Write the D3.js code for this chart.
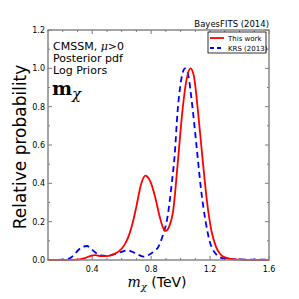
<!DOCTYPE html>
<html>
<head>
<meta charset="utf-8">
<script src="https://cdn.jsdelivr.net/npm/d3@7"></script>
<style>
body { margin: 0; background: #fff; }
text { font-family: "DejaVu Sans", sans-serif; }
</style>
</head>
<body>
<div id="chart"></div>
<script>
var width = 299, height = 299;
var margin = {left: 48, right: 30, top: 30, bottom: 39};

// this work (red)
var redX = [0.10, 0.20, 0.30, 0.35, 0.39, 0.42, 0.46, 0.50, 0.55, 0.58, 0.62, 0.65, 0.68, 0.70, 0.73, 0.76, 0.78, 0.80, 0.83, 0.86, 0.88, 0.90, 0.92, 0.95, 0.98, 1.01, 1.04, 1.067, 1.09, 1.12, 1.15, 1.18, 1.21, 1.24, 1.27, 1.30, 1.35, 1.40, 1.50, 1.60];
var redY = [0, 0, 0.002, 0.01, 0.022, 0.025, 0.02, 0.02, 0.032, 0.045, 0.08, 0.13, 0.21, 0.28, 0.39, 0.44, 0.43, 0.40, 0.32, 0.22, 0.17, 0.152, 0.17, 0.26, 0.50, 0.76, 0.94, 1.0, 0.96, 0.76, 0.52, 0.30, 0.15, 0.07, 0.03, 0.014, 0.005, 0.002, 0, 0];

// KRS 2013 (blue dashed)
var blueX = [0.10, 0.20, 0.25, 0.28, 0.31, 0.34, 0.365, 0.39, 0.42, 0.45, 0.50, 0.55, 0.60, 0.64, 0.68, 0.72, 0.75, 0.78, 0.82, 0.85, 0.88, 0.91, 0.94, 0.96, 0.98, 1.00, 1.03, 1.05, 1.08, 1.11, 1.14, 1.17, 1.20, 1.23, 1.26, 1.30, 1.40, 1.50, 1.60];
var blueY = [0, 0.002, 0.01, 0.03, 0.055, 0.07, 0.073, 0.06, 0.04, 0.025, 0.022, 0.03, 0.043, 0.05, 0.04, 0.025, 0.018, 0.025, 0.045, 0.07, 0.13, 0.22, 0.40, 0.55, 0.78, 0.92, 1.0, 0.97, 0.80, 0.58, 0.36, 0.20, 0.09, 0.04, 0.018, 0.007, 0.003, 0.002, 0.001];

var xTicks = [0.4, 0.8, 1.2, 1.6];
var yTicks = [0.0, 0.2, 0.4, 0.6, 0.8, 1.0, 1.2];

var svg = d3.select("#chart").append("svg")
  .attr("width", width)
  .attr("height", height);

var x = d3.scaleLinear().domain([0.1, 1.6]).range([margin.left, width - margin.right]);
var y = d3.scaleLinear().domain([0, 1.2]).range([height - margin.bottom, margin.top]);

var x0 = x.range()[0], x1 = x.range()[1];
var y0 = y.range()[0], y1 = y.range()[1];

// minor ticks every 0.1, inward, on all four sides
var g = svg.append("g").attr("stroke", "#555").attr("stroke-width", 0.8);
d3.range(0.1, 1.61, 0.1).forEach(function(v) {
  var isMajor = xTicks.some(function(t) { return Math.abs(t - v) < 1e-6; });
  var len = isMajor ? 4 : 2;
  g.append("line").attr("x1", x(v)).attr("x2", x(v)).attr("y1", y0).attr("y2", y0 - len);
  g.append("line").attr("x1", x(v)).attr("x2", x(v)).attr("y1", y1).attr("y2", y1 + len);
});
d3.range(0, 1.21, 0.1).forEach(function(v) {
  var isMajor = Math.round(v * 10) % 2 === 0;
  var len = isMajor ? 4 : 2;
  g.append("line").attr("y1", y(v)).attr("y2", y(v)).attr("x1", x0).attr("x2", x0 + len);
  g.append("line").attr("y1", y(v)).attr("y2", y(v)).attr("x1", x1).attr("x2", x1 - len);
});

svg.selectAll(".xlab")
  .data(xTicks)
  .enter().append("text")
  .attr("x", function(d) { return x(d); })
  .attr("y", y0 + 12)
  .attr("text-anchor", "middle")
  .style("font-size", "8px")
  .text(function(d) { return d.toFixed(1); });

svg.selectAll(".ylab")
  .data(yTicks)
  .enter().append("text")
  .attr("x", x0 - 3)
  .attr("y", function(d) { return y(d) + 3; })
  .attr("text-anchor", "end")
  .style("font-size", "8px")
  .text(function(d) { return d.toFixed(1); });

var line = d3.line()
  .x(function(d) { return x(d[0]); })
  .y(function(d) { return y(d[1]); })
  .curve(d3.curveMonotoneX);

svg.append("path")
  .datum(d3.zip(blueX, blueY))
  .attr("fill", "none")
  .attr("stroke", "blue")
  .attr("stroke-width", 1.8)
  .attr("stroke-dasharray", "6,4")
  .attr("d", line);

svg.append("path")
  .datum(d3.zip(redX, redY))
  .attr("fill", "none")
  .attr("stroke", "red")
  .attr("stroke-width", 1.8)
  .attr("d", line);

// frame
svg.append("rect")
  .attr("x", x0).attr("y", y1)
  .attr("width", x1 - x0).attr("height", y0 - y1)
  .attr("fill", "none")
  .attr("stroke", "#888")
  .attr("stroke-width", 1.5);

// annotations
var notes = ["Posterior pdf", "Log Priors"];
var t1 = svg.append("text").attr("x", 53).attr("y", 50).style("font-size", "11px");
t1.append("tspan").text("CMSSM, ");
t1.append("tspan").style("font-family", "DejaVu Serif, serif").style("font-style", "italic").text("μ");
t1.append("tspan").text(">0");
svg.selectAll(".note")
  .data(notes)
  .enter().append("text")
  .attr("x", 53)
  .attr("y", function(d, i) { return 62 + i * 12; })
  .style("font-size", "11px")
  .text(function(d) { return d; });

var mt = svg.append("text").attr("x", 52).attr("y", 95)
  .style("font-family", "DejaVu Serif, serif").style("font-size", "19px").style("font-weight", "bold");
mt.append("tspan").text("m");
mt.append("tspan").attr("dy", 4).style("font-size", "15px").style("font-weight", "normal").style("font-style", "italic").text("χ");

svg.append("text")
  .attr("x", x1)
  .attr("y", 27)
  .attr("text-anchor", "end")
  .style("font-size", "8.5px")
  .text("BayesFITS (2014)");

// legend
var lg = svg.append("g");
lg.append("rect").attr("x", 208).attr("y", 32).attr("width", 58).attr("height", 21)
  .attr("fill", "#fff").attr("stroke", "#000").attr("stroke-width", 0.8);
lg.append("line").attr("x1", 210).attr("x2", 224).attr("y1", 38).attr("y2", 38)
  .attr("stroke", "red").attr("stroke-width", 1.8);
lg.append("line").attr("x1", 210).attr("x2", 224).attr("y1", 48).attr("y2", 48)
  .attr("stroke", "blue").attr("stroke-width", 1.8).attr("stroke-dasharray", "4,3");
lg.append("text").attr("x", 228).attr("y", 40.5).style("font-size", "7px").text("This work");
lg.append("text").attr("x", 228).attr("y", 50.5).style("font-size", "7px").text("KRS (2013)");

// axis titles
var xt = svg.append("text").attr("x", 157).attr("y", 287).attr("text-anchor", "middle").style("font-size", "14px");
xt.append("tspan").style("font-family", "DejaVu Serif, serif").style("font-style", "italic").text("m");
xt.append("tspan").attr("dy", 3).style("font-family", "DejaVu Serif, serif").style("font-style", "italic").style("font-size", "10px").text("χ");
xt.append("tspan").attr("dy", -3).text(" (TeV)");

svg.append("text")
  .attr("transform", "translate(26,147) rotate(-90)")
  .attr("text-anchor", "middle")
  .style("font-size", "17px")
  .text("Relative probability");
</script>
</body>
</html>
